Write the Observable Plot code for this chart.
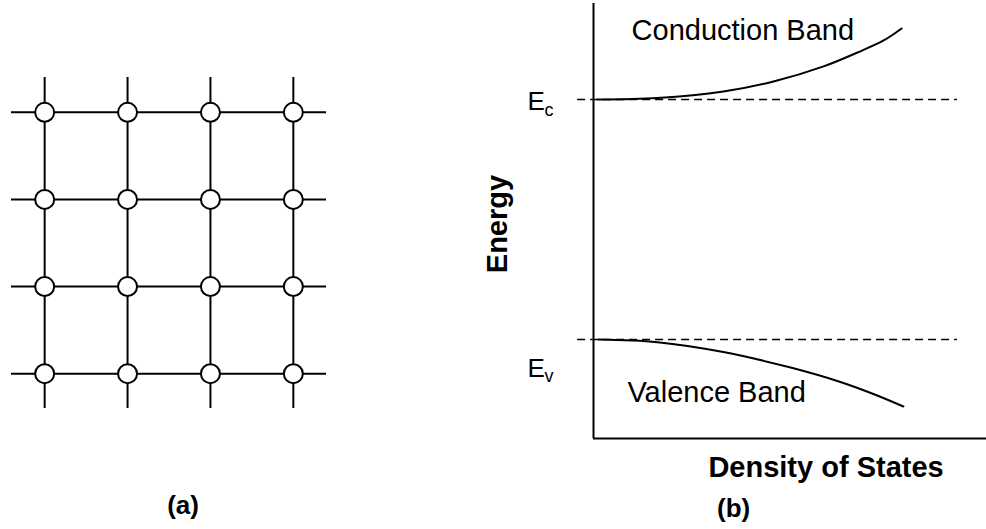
<!DOCTYPE html>
<html>
<head>
<meta charset="utf-8">
<script src="https://cdn.jsdelivr.net/npm/d3@7"></script>
<script src="https://cdn.jsdelivr.net/npm/@observablehq/plot@0.6"></script>
<style>
  html, body { margin: 0; padding: 0; background: #fff; }
  #fig { position: relative; width: 986px; height: 529px; overflow: hidden; font-family: "Liberation Sans", Arial, sans-serif; }
  #fig > svg { position: absolute; top: 0; }
</style>
</head>
<body>
<div id="fig"></div>
<script>
// (a) square crystal lattice: atom sites on a 4 x 4 grid
const latticeCols = [0, 1, 2, 3];
const latticeRows = [0, 1, 2, 3];

// (b) band edges (energy, normalised so that Ev = 0 and Ec = 1)
const Ec = 1;
const Ev = 0;

// density of states traced above the conduction band edge
const conductionDensity = [0.013, 0.213, 0.433, 0.600, 0.767, 0.880, 0.967, 1.027];
const conductionEnergy  = [1.000, 1.006, 1.033, 1.075, 1.138, 1.196, 1.246, 1.296];

// density of states traced below the valence band edge
const valenceDensity = [0.017, 0.213, 0.433, 0.657, 0.823, 0.933, 1.033];
const valenceEnergy  = [0.000, -0.011, -0.052, -0.117, -0.177, -0.227, -0.279];

const fig = document.getElementById("fig");
const font = "Liberation Sans, Arial, sans-serif";

// ---- panel (a): lattice ----
const sites = latticeRows.flatMap(r => latticeCols.map(c => ({c, r})));
const ext = 0.4;

const lattice = Plot.plot({
  width: 340,
  height: 529,
  marginLeft: 11,
  marginRight: 14,
  marginTop: 77,
  marginBottom: 121,
  style: {background: "transparent", fontFamily: font},
  x: {domain: [-ext, 3 + ext], axis: null},
  y: {domain: [-ext, 3 + ext], reverse: true, axis: null},
  marks: [
    Plot.ruleY(latticeRows, {y: d => d, x1: -ext, x2: 3 + ext, stroke: "#000", strokeWidth: 2}),
    Plot.ruleX(latticeCols, {x: d => d, y1: -ext, y2: 3 + ext, stroke: "#000", strokeWidth: 2}),
    Plot.dot(sites, {x: "c", y: "r", r: 9.5, fill: "#fff", stroke: "#000", strokeWidth: 2}),
    Plot.text(["(a)"], {x: 1.67, y: 4.52, text: d => d, fontSize: 26, fontWeight: "bold", fill: "#000"})
  ]
});
lattice.style.left = "0px";
fig.appendChild(lattice);

// ---- panel (b): energy vs density of states ----
const conduction = conductionDensity.map((x, i) => ({x, e: conductionEnergy[i]}));
const valence = valenceDensity.map((x, i) => ({x, e: valenceEnergy[i]}));
const eMin = -0.4125, eMax = 1.4, dMax = 1.31;
const labelX = -0.22;

const band = Plot.plot({
  width: 526,
  height: 529,
  marginLeft: 133,
  marginRight: 0,
  marginTop: 3,
  marginBottom: 91,
  style: {background: "transparent", fontFamily: font, overflow: "visible"},
  x: {domain: [0, dMax], axis: null},
  y: {domain: [eMin, eMax], axis: null},
  marks: [
    // band edges
    Plot.ruleY([Ec, Ev], {y: d => d, x1: -0.053, x2: 1.213, stroke: "#000", strokeWidth: 1.5, strokeDasharray: "8,5"}),
    // frame: energy axis and density axis
    Plot.ruleX([0], {y1: eMin, y2: eMax, stroke: "#000", strokeWidth: 2}),
    Plot.ruleY([eMin], {x1: 0, x2: dMax, stroke: "#000", strokeWidth: 2}),
    // density of states curves
    Plot.line(conduction, {x: "x", y: "e", curve: "catmull-rom", stroke: "#000", strokeWidth: 2}),
    Plot.line(valence, {x: "x", y: "e", curve: "catmull-rom", stroke: "#000", strokeWidth: 2}),
    // band names
    Plot.text(["Conduction Band"], {x: 0.127, y: 1.2875, text: d => d, textAnchor: "start", fontSize: 29, fill: "#000"}),
    Plot.text(["Valence Band"], {x: 0.113, y: -0.223, text: d => d, textAnchor: "start", fontSize: 29, fill: "#000"}),
    // edge labels E_c and E_v
    Plot.text([Ec], {x: labelX, y: d => d, text: () => "E", textAnchor: "start", fontSize: 26, fill: "#000", dy: 2}),
    Plot.text([Ec], {x: labelX, y: d => d, text: () => "c", textAnchor: "start", fontSize: 18, fill: "#000", dx: 17, dy: 11}),
    Plot.text([Ev], {x: labelX, y: d => d, text: () => "E", textAnchor: "start", fontSize: 26, fill: "#000", dy: 29}),
    Plot.text([Ev], {x: labelX, y: d => d, text: () => "v", textAnchor: "start", fontSize: 18, fill: "#000", dx: 17, dy: 37}),
    // axis titles
    Plot.text(["Energy"], {x: -0.32, y: 0.481, text: d => d, rotate: -90, fontSize: 29, fontWeight: "bold", fill: "#000"}),
    Plot.text(["Density of States"], {x: 0.383, y: -0.533, text: d => d, textAnchor: "start", fontSize: 29, fontWeight: "bold", fill: "#000"}),
    Plot.text(["(b)"], {x: 0.467, y: -0.704, text: d => d, fontSize: 26, fontWeight: "bold", fill: "#000"})
  ]
});
band.style.left = "460px";
fig.appendChild(band);
</script>
</body>
</html>
